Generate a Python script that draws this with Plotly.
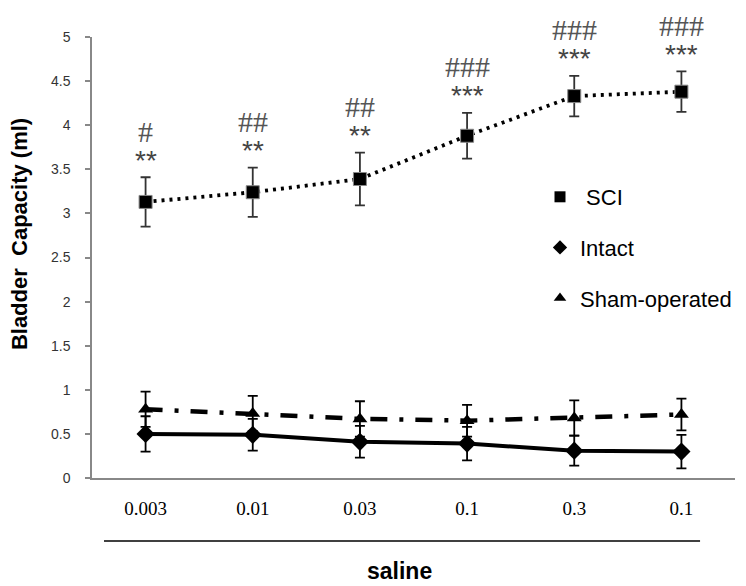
import plotly.graph_objects as go

# ---- data ----
dose_labels = ["0.003", "0.01", "0.03", "0.1", "0.3", "0.1"]
x_pos = list(range(len(dose_labels)))

sci_mean = [3.13, 3.24, 3.39, 3.88, 4.33, 4.38]
sci_err = [0.28, 0.28, 0.30, 0.26, 0.23, 0.23]

intact_mean = [0.50, 0.49, 0.41, 0.39, 0.31, 0.30]
intact_err = [0.20, 0.18, 0.18, 0.19, 0.17, 0.19]

sham_mean = [0.78, 0.73, 0.67, 0.65, 0.68, 0.72]
sham_err = [0.20, 0.20, 0.20, 0.18, 0.20, 0.18]

star_labels = ["**", "**", "**", "***", "***", "***"]
hash_labels = ["#", "##", "##", "###", "###", "###"]

y_ticks = [0, 0.5, 1, 1.5, 2, 2.5, 3, 3.5, 4, 4.5, 5]

# ---- figure (page body has an 8px margin) ----
OFF = 8
W, H = 746 - OFF, 586 - OFF
L, R, T, B = 92 - OFF, 10, 37 - OFF, 586 - 478
pw, ph = W - L - R, H - T - B

def px_x(p):  # screen pixel -> paper
    return (p - OFF - L) / pw

def px_y(p):
    return (H - B - (p - OFF)) / ph

fig = go.Figure()

err_style = dict(type="data", thickness=1.8, width=5)

fig.add_trace(go.Scatter(
    x=x_pos, y=sci_mean, mode="lines+markers", showlegend=False,
    line=dict(color="black", width=3.8, dash="3px,5px"),
    marker=dict(symbol="square", size=13, color="black",
                line=dict(color="#888", width=1)),
    error_y=dict(array=sci_err, color="#333", **err_style),
))
fig.add_trace(go.Scatter(
    x=x_pos, y=intact_mean, mode="lines+markers", showlegend=False,
    line=dict(color="black", width=4),
    marker=dict(symbol="diamond", size=14, color="black"),
    error_y=dict(array=intact_err, color="black", **err_style),
))
fig.add_trace(go.Scatter(
    x=x_pos, y=sham_mean, mode="lines+markers", showlegend=False,
    line=dict(color="black", width=4.5, dash="17px,12px,4px,12px"),
    marker=dict(symbol="triangle-up", size=13, color="black"),
    error_y=dict(array=sham_err, color="black", **err_style),
))

# legend-only entries (markers only)
for name, sym in [(" SCI", "square"), ("Intact", "diamond"),
                  ("Sham-operated", "triangle-up")]:
    fig.add_trace(go.Scatter(
        x=[None], y=[None], mode="markers", name=name, legendgroup=name,
        marker=dict(symbol=sym, size=11, color="black"),
    ))

# significance marks
for i in x_pos:
    top = sci_mean[i] + sci_err[i]
    fig.add_annotation(x=i, y=top, text=star_labels[i], showarrow=False,
                       yshift=17, yanchor="middle",
                       font=dict(family="Liberation Sans", size=28, color="#444"))
    fig.add_annotation(x=i, y=top, text=hash_labels[i], showarrow=False,
                       yshift=46, yanchor="middle",
                       font=dict(family="Liberation Serif", size=30, color="#555"))

# axis titles / extra text
fig.add_annotation(xref="paper", yref="paper", x=px_x(19), y=px_y(234),
                   text="<b>Bladder  Capacity (ml)</b>", textangle=-90,
                   showarrow=False, xanchor="center", yanchor="middle",
                   font=dict(family="Liberation Sans", size=22, color="black"))
fig.add_annotation(xref="paper", yref="paper", x=px_x(400), y=px_y(571),
                   text="<b>saline</b>", showarrow=False,
                   xanchor="center", yanchor="middle",
                   font=dict(family="Liberation Sans", size=23, color="black"))
fig.add_shape(type="line", xref="paper", yref="paper",
              x0=px_x(104), x1=px_x(701), y0=px_y(541), y1=px_y(541),
              line=dict(color="black", width=1.5))

fig.update_layout(
    width=W, height=H,
    margin=dict(l=L, r=R, t=T, b=B, pad=0),
    paper_bgcolor="white", plot_bgcolor="white",
    xaxis=dict(range=[-0.5, 5.5], tickvals=x_pos, ticktext=dose_labels,
               ticks="", showline=True, linecolor="#888", linewidth=1.5,
               showgrid=False, zeroline=False, ticklabelstandoff=12,
               tickfont=dict(family="Liberation Serif", size=19, color="black")),
    xaxis2=dict(range=[-0.5, 5.5], overlaying="x", anchor="y", side="bottom",
                tickvals=[0.5, 1.5, 2.5, 3.5, 4.5, 5.5], ticks="outside",
                ticklen=6, tickcolor="#888", tickwidth=1.5,
                showticklabels=False, showgrid=False, zeroline=False,
                showline=False),
    yaxis=dict(range=[0, 5], tickvals=y_ticks, ticks="outside", ticklen=5,
               tickcolor="#888", tickwidth=1.5, showline=True,
               linecolor="#888", linewidth=1.5, showgrid=False,
               zeroline=False, ticklabelstandoff=12,
               tickfont=dict(family="Liberation Sans", size=14, color="#333")),
    legend=dict(x=px_x(540), y=px_y(176), xanchor="left", yanchor="top",
                bgcolor="rgba(0,0,0,0)", tracegroupgap=19,
                font=dict(family="Liberation Sans", size=22, color="black")),
    showlegend=True,
)

fig.write_html("out.html")
